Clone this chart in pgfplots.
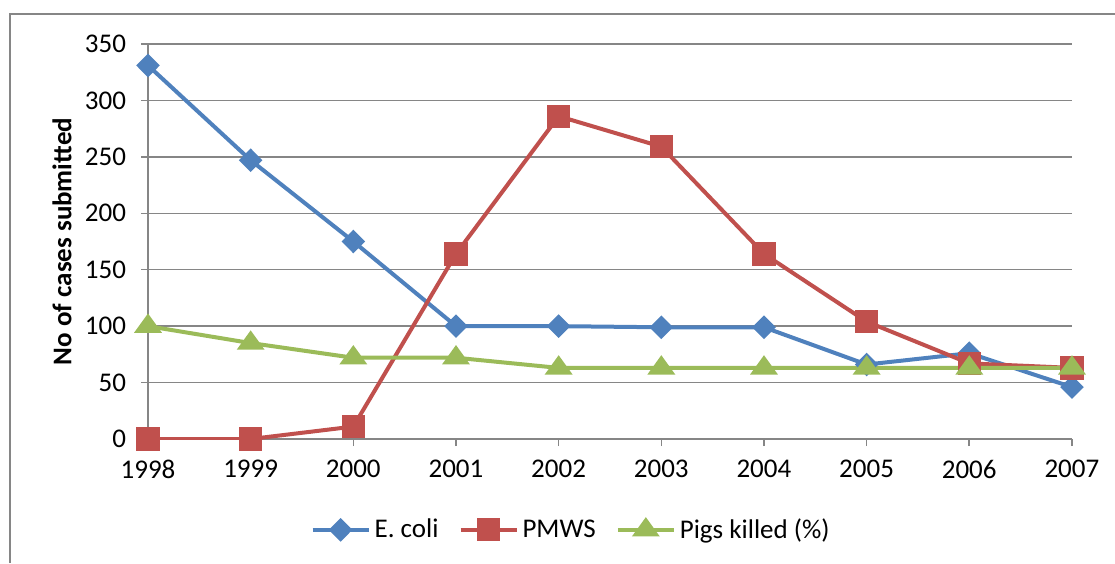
\documentclass[border=0pt]{standalone}
\usepackage{fontspec}
\setmainfont{Carlito}
\usepackage{pgfplots}
\pgfplotsset{compat=1.18}
\definecolor{cblue}{HTML}{4F81BD}
\definecolor{cred}{HTML}{C0504D}
\definecolor{cgreen}{HTML}{9BBB59}
\definecolor{cgrid}{HTML}{868686}
\begin{document}
\begin{tikzpicture}
\path[use as bounding box] (0,0) rectangle (557.5pt,281.5pt);
\draw[cgrid, line width=0.75pt] (5pt,0pt) -- (5pt,274.5pt) -- (557.5pt,274.5pt);
\begin{axis}[
  at={(74pt,62pt)}, anchor=south west,
  scale only axis, width=462pt, height=197.5pt,
  xmin=1998, xmax=2007, ymin=0, ymax=350,
  xtick={1998,...,2007}, ytick={0,50,...,350},
  axis x line*=bottom, axis y line*=left,
  axis line style={cgrid, line width=0.75pt},
  tick style={cgrid, line width=0.75pt},
  tick align=outside, major tick length=3.5pt,
  ymajorgrids, grid style={cgrid, line width=0.75pt},
  /pgf/number format/.cd, 1000 sep={}, assume math mode=true,
  /pgfplots/.cd,
  tick label style={font=\fontsize{13.5pt}{15pt}\selectfont, black},
  xticklabel style={yshift=-3.5pt},
  yticklabel style={xshift=-4pt},
  ylabel={\bfseries No of cases submitted},
  ylabel style={at={(axis description cs:-0.093,0.5)}, anchor=center, font=\fontsize{13.5pt}{15pt}\selectfont},
  legend style={at={(axis description cs:0.459,-0.23)}, anchor=center, draw=none, legend columns=3,
    font=\fontsize{13.5pt}{15pt}\selectfont, /tikz/every even column/.append style={column sep=8pt}},
  legend image code/.code={\draw[#1] (0pt,0pt) -- (14pt,0pt) -- (28pt,0pt); \draw[#1, only marks] plot coordinates {(14pt,0pt)};},
  every axis plot/.append style={line width=2pt},
]
\addplot[cblue, mark=diamond*, mark size=4.5pt, mark options={xscale=1.33, solid}] coordinates {
(1998,331)(1999,247)(2000,175)(2001,100)(2002,100)(2003,99)(2004,99)(2005,66)(2006,76)(2007,46)};
\addlegendentry{E. coli}
\addplot[cred, mark=square*, mark size=4.8pt] coordinates {
(1998,0)(1999,0)(2000,11)(2001,164)(2002,286)(2003,259)(2004,164)(2005,104)(2006,67)(2007,63)};
\addlegendentry{PMWS}
\addplot[cgreen, mark=triangle*, mark size=5.8pt, mark options={yscale=0.8}] coordinates {
(1998,100)(1999,85)(2000,72)(2001,72)(2002,63)(2003,63)(2004,63)(2005,63)(2006,63)(2007,63)};
\addlegendentry{Pigs killed (\%)}
\end{axis}
\end{tikzpicture}
\end{document}
